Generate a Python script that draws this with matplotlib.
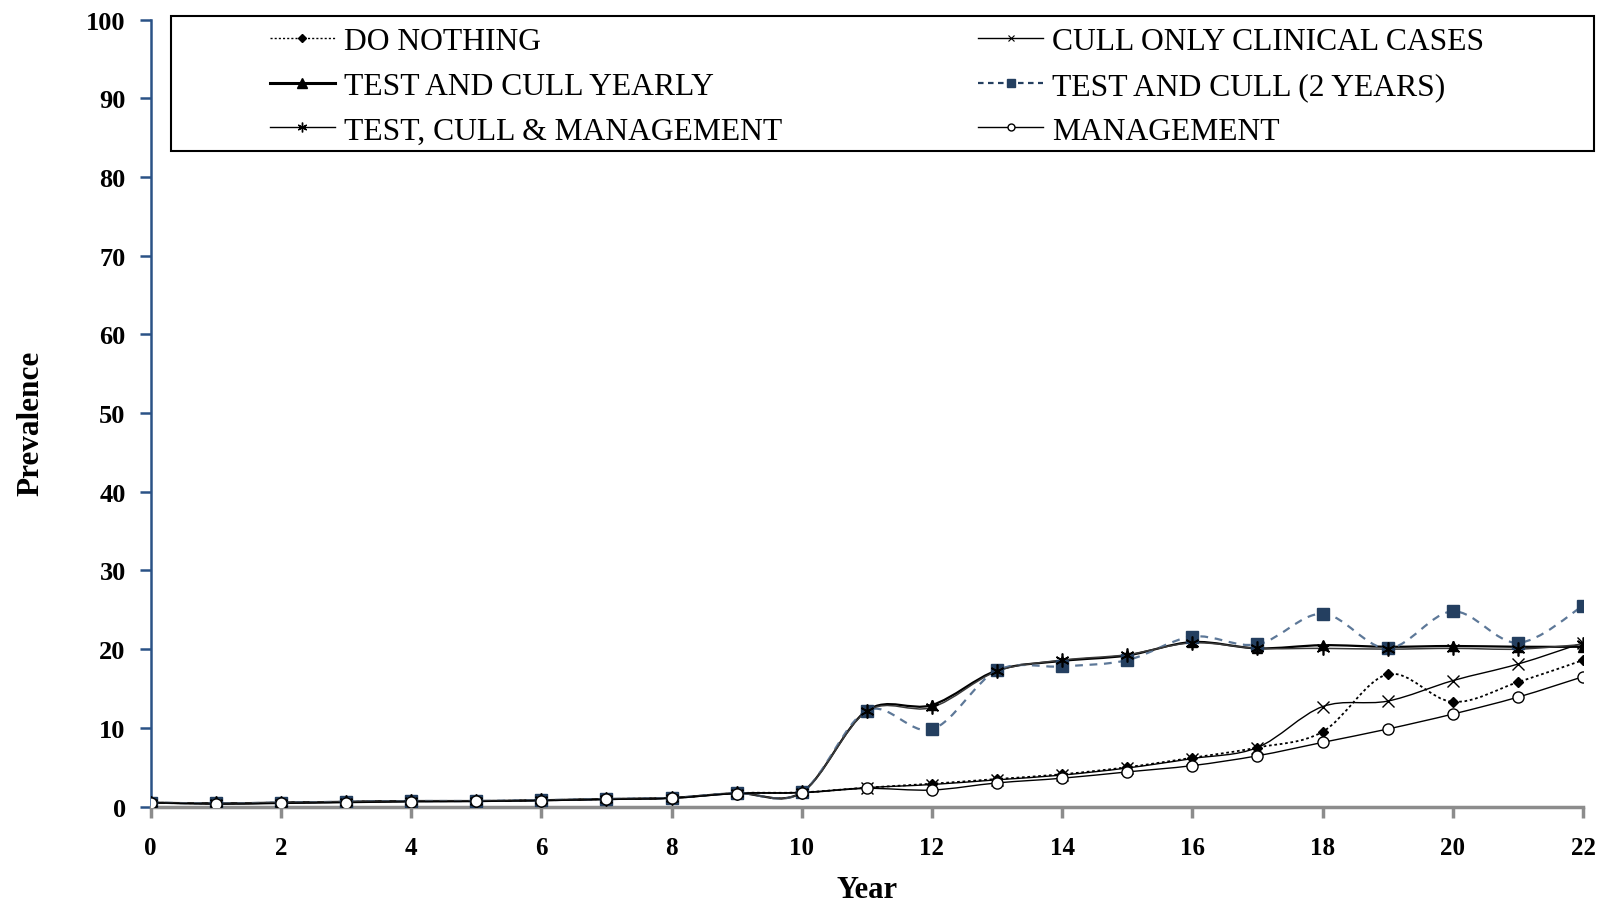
import matplotlib
matplotlib.use("Agg")
import matplotlib.pyplot as plt
from matplotlib.path import Path
from matplotlib.patches import PathPatch, Rectangle
from matplotlib.lines import Line2D
import numpy as np

plt.rcParams['font.family'] = ['Liberation Serif', 'DejaVu Serif']

# ---- data -------------------------------------------------------------
years = list(range(0, 23))

do_nothing = [0.5, 0.4, 0.5, 0.6, 0.7, 0.7, 0.8, 0.95, 1.1, 1.7, 1.8,
              2.4, 2.9, 3.5, 4.1, 5.0, 6.2, 7.5, 9.5, 16.8, 13.3, 15.8, 18.6]
cull_clinical = [0.5, 0.4, 0.5, 0.6, 0.7, 0.7, 0.8, 0.95, 1.1, 1.7, 1.8,
                 2.4, 2.8, 3.4, 4.0, 4.9, 6.1, 7.5, 12.7, 13.4, 16.0, 18.1, 20.8]
test_cull_yearly = [0.5, 0.4, 0.5, 0.6, 0.7, 0.7, 0.8, 0.95, 1.1, 1.7, 1.8,
                    12.2, 12.9, 17.3, 18.5, 19.2, 20.9, 20.1, 20.5, 20.3, 20.4, 20.3, 20.3]
test_cull_2yr = [0.5, 0.4, 0.5, 0.6, 0.7, 0.7, 0.8, 0.95, 1.1, 1.7, 1.8,
                 12.2, 9.8, 17.3, 17.8, 18.6, 21.6, 20.6, 24.5, 20.1, 24.8, 20.8, 25.5]
test_cull_mgmt = [0.5, 0.4, 0.5, 0.6, 0.7, 0.7, 0.8, 0.95, 1.1, 1.7, 1.8,
                  12.1, 12.6, 17.2, 18.6, 19.3, 20.8, 20.1, 20.1, 20.0, 20.1, 20.0, 20.6]
management = [0.5, 0.3, 0.4, 0.5, 0.6, 0.65, 0.75, 0.9, 1.05, 1.65, 1.75,
              2.3, 2.1, 3.0, 3.6, 4.4, 5.2, 6.45, 8.15, 9.85, 11.75, 13.9, 16.5]

labels = ["DO NOTHING", "CULL ONLY CLINICAL CASES", "TEST AND CULL YEARLY",
          "TEST AND CULL (2 YEARS)", "TEST, CULL & MANAGEMENT", "MANAGEMENT"]
x_ticks = list(range(0, 23, 2))
y_ticks = list(range(0, 101, 10))

NAVY = '#243f60'
DASHBLUE = '#5d7898'
AXBLUE = '#2a5286'


def smooth_path(xs, ys):
    """Cubic Bezier path through the points (spreadsheet-style smoothed line)."""
    pts = np.column_stack([xs, ys]).astype(float)
    n = len(pts)
    verts = [pts[0]]
    codes = [Path.MOVETO]
    for i in range(n - 1):
        p0 = pts[i - 1] if i > 0 else pts[i]
        p1 = pts[i]
        p2 = pts[i + 1]
        p3 = pts[i + 2] if i + 2 < n else pts[i + 1]
        c1 = p1 + (p2 - p0) / 6.0
        c2 = p2 - (p3 - p1) / 6.0
        verts += [c1, c2, p2]
        codes += [Path.CURVE4] * 3
    return Path(verts, codes)


fig = plt.figure(figsize=(16.06, 9.04), dpi=100)
ax = fig.add_axes([0.0938, 0.1067, 0.8919, 0.8706])

series = [
    # values, line kw, marker kw
    (do_nothing, dict(color='black', lw=1.3, ls=(0, (1.5, 1.5))),
     dict(marker='D', ms=5.5, mfc='black', mec='black')),
    (cull_clinical, dict(color='black', lw=1.0, ls='-'),
     dict(marker='x', ms=8, mfc='none', mec='black', mew=1.0)),
    (test_cull_yearly, dict(color='black', lw=1.6, ls='-'),
     dict(marker='^', ms=7, mfc='black', mec='black')),
    (test_cull_2yr, dict(color=DASHBLUE, lw=1.6, ls=(0, (3.5, 3.0))),
     dict(marker='s', ms=8, mfc=NAVY, mec=NAVY)),
    (test_cull_mgmt, dict(color='#3a3a3a', lw=1.1, ls='-'),
     dict(marker=(6, 2, 0), ms=10, mfc='black', mec='black', mew=1.2)),
    (management, dict(color='black', lw=1.0, ls='-'),
     dict(marker='o', ms=8, mfc='white', mec='black', mew=1.0)),
]

for vals, lkw, mkw in series:
    patch = PathPatch(smooth_path(years, vals), facecolor='none',
                      edgecolor=lkw['color'], lw=lkw['lw'], ls=lkw['ls'],
                      zorder=2)
    ax.add_patch(patch)
    ax.plot(years, vals, ls='none', zorder=3, **mkw)

ax.set_xlim(0, 22)
ax.set_ylim(0, 100)
ax.set_xticks(x_ticks)
ax.set_yticks(y_ticks)
ax.set_xticklabels([str(t) for t in x_ticks], fontsize=18, fontweight='bold')
ax.set_yticklabels([str(t) for t in y_ticks], fontsize=19, fontweight='bold')

for s in ('top', 'right'):
    ax.spines[s].set_visible(False)
ax.spines['left'].set_color(AXBLUE)
ax.spines['left'].set_linewidth(1.8)
ax.spines['bottom'].set_color('#8c8c8c')
ax.spines['bottom'].set_linewidth(2.5)
ax.tick_params(axis='y', direction='out', length=8, width=1.8, color=AXBLUE, pad=10)
ax.tick_params(axis='x', direction='out', length=8, width=2.5, color='#8c8c8c', pad=13)

ax.set_xlabel("Year", fontsize=22, fontweight='bold', labelpad=12)
ax.set_ylabel("Prevalence", fontsize=22.5, fontweight='bold')
ax.yaxis.set_label_coords(-0.0735, 0.4886)

# legend: frame drawn as a figure rectangle, entries in two columns
frame = Rectangle((171 / 1606, 1 - 152 / 904), (1594 - 171) / 1606, (152 - 17) / 904,
                  transform=fig.transFigure, facecolor='white', edgecolor='black',
                  lw=1.5, zorder=5)
fig.patches.append(frame)

handles = [
    Line2D([], [], color='black', lw=1.0, ls=(0, (1.5, 1.5)), marker='D', ms=4,
           mfc='black', mec='black'),
    Line2D([], [], color='black', lw=2.2, ls='-', marker='^', ms=7,
           mfc='black', mec='black'),
    Line2D([], [], color='black', lw=1.0, ls='-', marker=(6, 2, 0), ms=7,
           mec='black', mew=1.0),
    Line2D([], [], color='black', lw=1.0, ls='-', marker='x', ms=5,
           mec='black', mew=0.8),
    Line2D([], [], color=NAVY, lw=1.6, ls=(0, (2.5, 2.0)), marker='s', ms=6,
           mfc=NAVY, mec=NAVY),
    Line2D([], [], color='black', lw=1.0, ls='-', marker='o', ms=5,
           mfc='white', mec='black', mew=1.0),
]
leg_labels = [labels[0], labels[2], labels[4], labels[1], labels[3], labels[5]]
leg = fig.legend(handles, leg_labels, ncol=2, loc='upper left',
                 bbox_to_anchor=(270 / 1606, 1 - 28 / 904),
                 frameon=False, fontsize=22.8, handlelength=2.05,
                 handletextpad=0.28, columnspacing=6.2, labelspacing=0.49,
                 borderpad=0.0, borderaxespad=0.0)
leg.set_zorder(6)

fig.savefig("out.png", dpi=100, facecolor='white')
